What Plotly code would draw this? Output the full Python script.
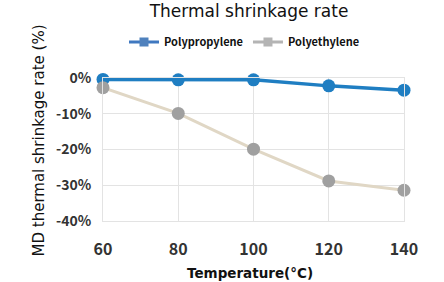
import plotly.graph_objects as go

temps = [60, 80, 100, 120, 140]
pp_vals = [-0.4, -0.5, -0.5, -2.2, -3.4]
pe_vals = [-2.7, -9.9, -19.9, -28.8, -31.4]
y_ticks = [0, -10, -20, -30, -40]
y_tick_text = ["0%", "-10%", "-20%", "-30%", "-40%"]
x_ticks = [60, 80, 100, 120, 140]

W, H = 444, 282
L, R, T, B = 103, 40, 78, 61
pw, ph = W - L - R, H - T - B

PP_LINE = "#1f7ec2"
PE_LINE = "#e0d7c5"
PE_MARK = "#a0a0a0"
TXT = "#333333"
FONT = "Noto Sans CJK JP"

fig = go.Figure()
fig.add_trace(go.Scatter(
    x=temps, y=pp_vals, mode="lines+markers", showlegend=False,
    line=dict(color=PP_LINE, width=3.5),
    marker=dict(color=PP_LINE, size=13), cliponaxis=False))
fig.add_trace(go.Scatter(
    x=temps, y=pe_vals, mode="lines+markers", showlegend=False,
    line=dict(color=PE_LINE, width=3),
    marker=dict(color=PE_MARK, size=13), cliponaxis=False))
# legend entries
fig.add_trace(go.Scatter(
    x=[None], y=[None], mode="lines+markers", name="Polypropylene",
    line=dict(color="#3f78c0", width=3),
    marker=dict(color="#4f81bd", size=9, symbol="square")))
fig.add_trace(go.Scatter(
    x=[None], y=[None], mode="lines+markers", name="Polyethylene",
    line=dict(color="#b4b4b4", width=3),
    marker=dict(color="#b4b4b4", size=9, symbol="square")))

fig.update_layout(
    width=W, height=H,
    margin=dict(l=L, r=R, t=T, b=B, autoexpand=False),
    paper_bgcolor="white", plot_bgcolor="white",
    font=dict(family=FONT, color=TXT),
    title=dict(text="Thermal shrinkage rate", x=249 / W, xanchor="center",
               y=1 - 11 / H, yanchor="middle", yref="container",
               font=dict(family="DejaVu Sans", size=17, color="#111111")),
    legend=dict(orientation="h", x=(124 - L) / pw, xanchor="left",
                y=(H - B - 42) / ph, yanchor="middle",
                font=dict(family=FONT, size=11, color="#111111", weight="bold"),
                itemwidth=30, bgcolor="rgba(0,0,0,0)"),
    xaxis=dict(range=[60, 140], tickmode="array", tickvals=x_ticks,
               showgrid=True, gridcolor="#e3e3e3", gridwidth=1,
               showline=True, linecolor="#e3e3e3", mirror=True,
               zeroline=False, ticks="", ticklabelstandoff=14,
               tickfont=dict(family=FONT, size=16, color=TXT, weight="bold")),
    yaxis=dict(range=[-40, 0], tickmode="array", tickvals=y_ticks,
               ticktext=y_tick_text,
               showgrid=True, gridcolor="#e3e3e3", gridwidth=1,
               showline=True, linecolor="#e3e3e3", mirror=True,
               zeroline=False, ticks="", ticklabelstandoff=8,
               tickfont=dict(family=FONT, size=14, color=TXT, weight="bold")),
    annotations=[
        dict(text="MD thermal shrinkage rate (%)", xref="paper", yref="paper",
             x=(38.5 - L) / pw, y=(H - B - 141) / ph, xanchor="center",
             yanchor="middle", textangle=-90, showarrow=False,
             font=dict(family="DejaVu Sans", size=15, color="#111111")),
        dict(text="Temperature(°C)", xref="paper", yref="paper",
             x=(249.5 - L) / pw, y=(H - B - 273) / ph, xanchor="center",
             yanchor="middle", showarrow=False,
             font=dict(family="DejaVu Sans", size=13.5, color="#111111",
                       weight="bold")),
    ],
)
fig.write_html("out.html")
